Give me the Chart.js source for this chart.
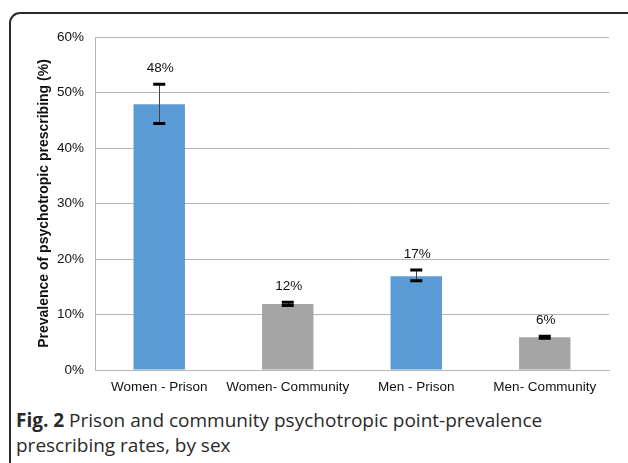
<!DOCTYPE html>
<html>
<head>
<meta charset="utf-8">
<script src="https://cdn.jsdelivr.net/npm/chart.js@4"></script>
<style>
  html, body { margin: 0; padding: 0; background: #fff; overflow: hidden; }
  #wrap { position: relative; width: 628px; height: 463px; overflow: hidden; }
  #frame { position: absolute; left: 9px; top: 12px; width: 640px; height: 480px;
           border: 2px solid #2a2a2a; border-radius: 11px; box-sizing: border-box; }
  #cv { position: absolute; left: 0; top: 0; }
  #caption { position: absolute; left: 16px; top: 408px; width: 600px;
             font-family: "Open Sans", sans-serif; font-size: 19px; line-height: 25px; color: #2a2a2a; }
  #caption b { font-weight: 700; }
</style>
</head>
<body>
<div id="wrap">
  <div id="frame"></div>
  <canvas id="cv" width="628" height="400"></canvas>
  <div id="caption"><b>Fig. 2</b> Prison and community psychotropic point-prevalence prescribing rates, by sex</div>
</div>
<script>
const categories = ["Women - Prison", "Women- Community", "Men - Prison", "Men- Community"];
const values = [47.9, 11.9, 16.9, 5.9];
const errLow = [44.4, 11.6, 16.1, 5.7];
const errHigh = [51.5, 12.2, 18.0, 6.1];
const valueLabels = ["48%", "12%", "17%", "6%"];
const barColors = ["#5B9BD5", "#A5A5A5", "#5B9BD5", "#A5A5A5"];
const yTicks = [0, 10, 20, 30, 40, 50, 60];

const FONT = '"Liberation Sans", Arial, sans-serif';

const errorBarPlugin = {
  id: 'errorBars',
  afterDatasetsDraw(chart) {
    const ctx = chart.ctx;
    const x = chart.scales.x, y = chart.scales.y;
    ctx.save();
    categories.forEach((c, i) => {
      const cx = x.getPixelForValue(i);
      const yHi = y.getPixelForValue(errHigh[i]);
      const yLo = y.getPixelForValue(errLow[i]);
      ctx.strokeStyle = '#444';
      ctx.lineWidth = 1;
      ctx.beginPath();
      ctx.moveTo(Math.round(cx) + 0.5, yHi);
      ctx.lineTo(Math.round(cx) + 0.5, yLo);
      ctx.stroke();
      ctx.strokeStyle = '#000';
      ctx.lineWidth = 3;
      ctx.beginPath();
      ctx.moveTo(cx - 6, yHi); ctx.lineTo(cx + 6, yHi);
      ctx.moveTo(cx - 6, yLo); ctx.lineTo(cx + 6, yLo);
      ctx.stroke();
      ctx.fillStyle = '#111';
      ctx.font = '13.5px ' + FONT;
      ctx.textAlign = 'center';
      ctx.textBaseline = 'middle';
      ctx.fillText(valueLabels[i], cx + 1, yHi - 16);
    });
    ctx.restore();
  }
};

new Chart(document.getElementById('cv'), {
  type: 'bar',
  data: {
    labels: categories,
    datasets: [{
      data: values,
      backgroundColor: barColors,
      borderWidth: 0,
      barPercentage: 0.4,
      categoryPercentage: 1.0
    }]
  },
  options: {
    responsive: false,
    animation: false,
    devicePixelRatio: 1,
    layout: { padding: { top: 37, right: 19, left: 0, bottom: 0 } },
    plugins: { legend: { display: false }, tooltip: { enabled: false } },
    scales: {
      x: {
        grid: { display: false, drawTicks: false },
        border: { color: '#B5B5B5', width: 1 },
        ticks: { color: '#111', padding: 9, maxRotation: 0, minRotation: 0, autoSkip: false,
                 font: { family: FONT, size: 13.5 } },
        afterFit(s) { s.height = 30; }
      },
      y: {
        min: 0, max: 60,
        afterBuildTicks(s) { s.ticks = yTicks.map(v => ({ value: v })); },
        grid: { color: '#B5B5B5', drawTicks: false },
        border: { color: '#B5B5B5', width: 1 },
        ticks: { color: '#111', padding: 11, callback: v => v + '%',
                 font: { family: FONT, size: 13.5 } },
        title: { display: true, text: 'Prevalence of psychotropic prescribing (%)', color: '#111',
                 padding: { top: 36, bottom: 0 },
                 font: { family: FONT, size: 14, weight: 'bold' } },
        afterFit(s) { s.width = 95; }
      }
    }
  },
  plugins: [errorBarPlugin]
});
</script>
</body>
</html>
